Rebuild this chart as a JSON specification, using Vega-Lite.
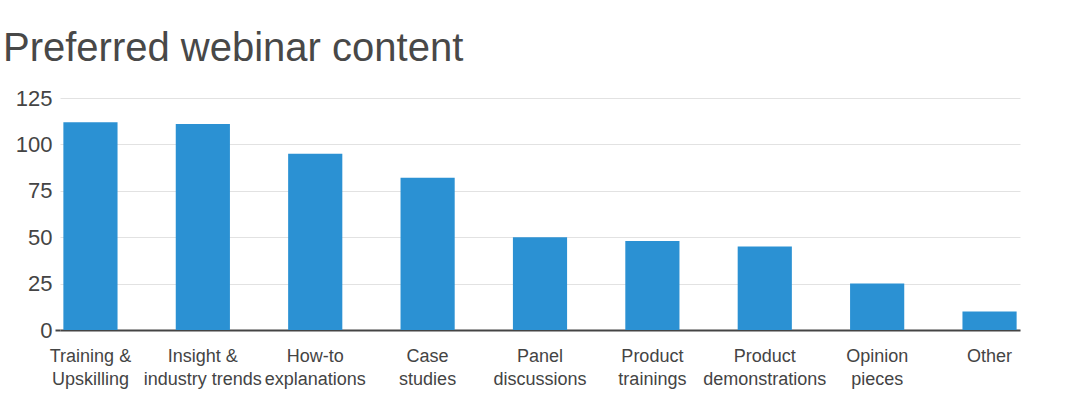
{
  "$schema": "https://vega.github.io/schema/vega-lite/v6.json",
  "autosize": "none",
  "padding": {"left": 60, "top": 98, "right": 60, "bottom": 79},
  "width": 960,
  "height": 232,
  "background": "white",
  "title": {
    "text": "Preferred webinar content",
    "anchor": "start",
    "frame": "group",
    "dx": -57,
    "offset": 18,
    "font": "Liberation Sans",
    "fontSize": 40,
    "fontWeight": "normal",
    "color": "#484848"
  },
  "config": {
    "view": {"stroke": null},
    "axis": {"labelFont": "Liberation Sans", "labelColor": "#444444", "title": null}
  },
  "data": {
    "values": [
      {"content": "Training &\nUpskilling", "count": 112},
      {"content": "Insight &\nindustry trends", "count": 111},
      {"content": "How-to\nexplanations", "count": 95},
      {"content": "Case\nstudies", "count": 82},
      {"content": "Panel\ndiscussions", "count": 50},
      {"content": "Product\ntrainings", "count": 48},
      {"content": "Product\ndemonstrations", "count": 45},
      {"content": "Opinion\npieces", "count": 25},
      {"content": "Other", "count": 10}
    ]
  },
  "mark": {"type": "bar", "color": "#2b91d3"},
  "encoding": {
    "x": {
      "field": "content",
      "type": "nominal",
      "sort": null,
      "scale": {"paddingInner": 0.518, "paddingOuter": 0.03},
      "axis": {
        "labelAngle": 0,
        "labelExpr": "split(datum.label, '\\n')",
        "labelFontSize": 18,
        "labelLineHeight": 23,
        "labelPadding": 17,
        "ticks": false,
        "domainColor": "#444444",
        "domainWidth": 2
      }
    },
    "y": {
      "field": "count",
      "type": "quantitative",
      "scale": {"domain": [0, 125]},
      "axis": {
        "values": [0, 25, 50, 75, 100, 125],
        "labelFontSize": 22,
        "labelPadding": 3,
        "tickSize": 5,
        "tickWidth": 2,
        "tickColor": {"condition": {"test": "datum.value === 0", "value": "#444444"}, "value": "transparent"},
        "domain": false,
        "grid": true,
        "gridColor": "#e2e2e2",
        "gridWidth": 1
      }
    }
  }
}
